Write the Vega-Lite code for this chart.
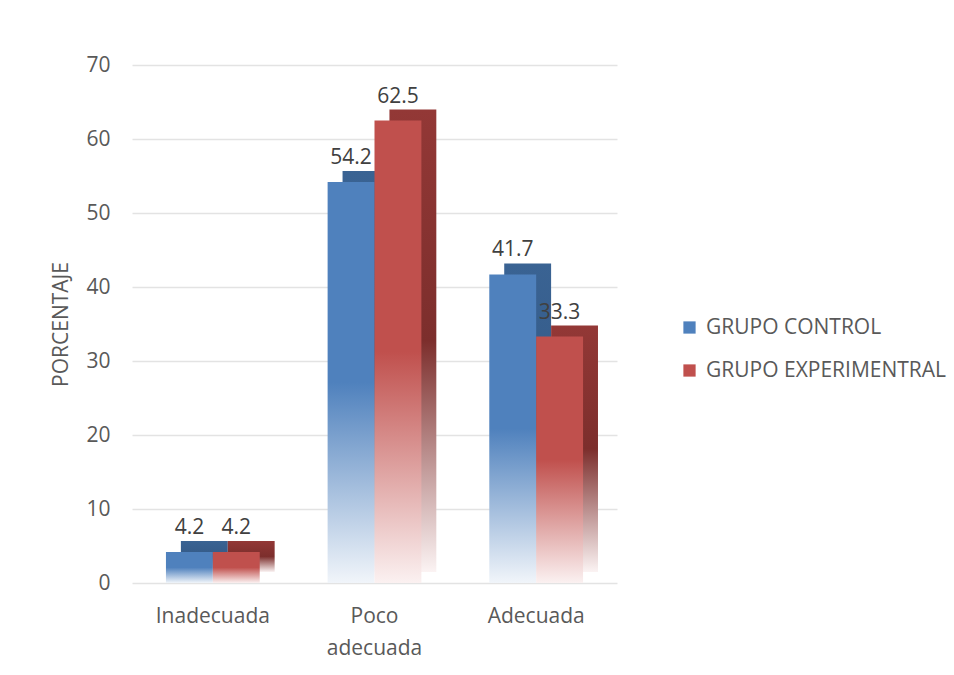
{
  "$schema": "https://vega.github.io/schema/vega-lite/v6.json",
  "autosize": {"type": "none"},
  "padding": {"left": 132, "top": 65, "right": 337, "bottom": 92},
  "width": 485,
  "height": 518,
  "background": "white",
  "config": {
    "view": {"stroke": null},
    "font": "Open Sans",
    "axis": {"labelFont": "Open Sans", "titleFont": "Open Sans", "labelColor": "#595959", "titleColor": "#595959"}
  },
  "data": {
    "values": [
      {"cat": "Inadecuada", "grupo": "GRUPO CONTROL", "valor": 4.2},
      {"cat": "Inadecuada", "grupo": "GRUPO EXPERIMENTRAL", "valor": 4.2},
      {"cat": "Poco adecuada", "grupo": "GRUPO CONTROL", "valor": 54.2},
      {"cat": "Poco adecuada", "grupo": "GRUPO EXPERIMENTRAL", "valor": 62.5},
      {"cat": "Adecuada", "grupo": "GRUPO CONTROL", "valor": 41.7},
      {"cat": "Adecuada", "grupo": "GRUPO EXPERIMENTRAL", "valor": 33.3}
    ]
  },
  "encoding": {
    "xOffset": {"field": "grupo", "type": "nominal", "scale": {"domain": ["GRUPO CONTROL", "GRUPO EXPERIMENTRAL"], "paddingInner": 0}},
    "y": {
      "field": "valor", "type": "quantitative",
      "scale": {"domain": [0, 70], "nice": false},
      "axis": {"title": "PORCENTAJE", "values": [0, 10, 20, 30, 40, 50, 60, 70], "domain": false, "ticks": false, "labelFontSize": 21, "labelPadding": 22, "titleFontSize": 21, "titleFontWeight": "normal", "titlePadding": 14, "gridColor": "#e3e3e3", "gridWidth": 1.5}
    }
  },
  "layer": [
    {
      "encoding": {
        "x": {
          "field": "cat", "type": "nominal", "sort": ["Inadecuada", "Poco adecuada", "Adecuada"],
          "scale": {"domain": ["Inadecuada", "Poco adecuada", "Adecuada"], "paddingInner": 0.42, "paddingOuter": 0.21, "align": 0.72},
          "axis": null
        }
      },
      "layer": [
        {
          "transform": [{"filter": "datum.grupo == 'GRUPO CONTROL'"}],
          "mark": {"type": "bar", "yOffset": -11, "y2Offset": -11,
            "color": {"gradient": "linear", "x1": 0, "y1": 0, "x2": 0, "y2": 1, "stops": [{"offset": 0, "color": "#3a6393"}, {"offset": 0.5, "color": "#345a87"}, {"offset": 1, "color": "#f4f7fb"}]}}
        },
        {
          "transform": [{"filter": "datum.grupo == 'GRUPO EXPERIMENTRAL'"}],
          "mark": {"type": "bar", "yOffset": -11, "y2Offset": -11,
            "color": {"gradient": "linear", "x1": 0, "y1": 0, "x2": 0, "y2": 1, "stops": [{"offset": 0, "color": "#933836"}, {"offset": 0.5, "color": "#7c2e2c"}, {"offset": 1, "color": "#fbf3f3"}]}}
        }
      ]
    },
    {
      "encoding": {
        "x": {
          "field": "cat", "type": "nominal", "sort": ["Inadecuada", "Poco adecuada", "Adecuada"],
          "scale": {"domain": ["Inadecuada", "Poco adecuada", "Adecuada"], "paddingInner": 0.42, "paddingOuter": 0.21},
          "axis": {"title": null, "labelAngle": 0, "domain": false, "ticks": false, "labelFontSize": 21, "labelPadding": 22, "labelLineHeight": 32, "labelExpr": "split(datum.label, ' ')"}
        }
      },
      "layer": [
        {
          "transform": [{"filter": "datum.grupo == 'GRUPO CONTROL'"}],
          "mark": {"type": "bar",
            "color": {"gradient": "linear", "x1": 0, "y1": 0, "x2": 0, "y2": 1, "stops": [{"offset": 0, "color": "#4f81bd"}, {"offset": 0.5, "color": "#4f81bd"}, {"offset": 1, "color": "#f1f5fa"}]}}
        },
        {
          "transform": [{"filter": "datum.grupo == 'GRUPO EXPERIMENTRAL'"}],
          "mark": {"type": "bar",
            "color": {"gradient": "linear", "x1": 0, "y1": 0, "x2": 0, "y2": 1, "stops": [{"offset": 0, "color": "#c0504d"}, {"offset": 0.5, "color": "#c0504d"}, {"offset": 1, "color": "#fbf1f1"}]}}
        },
        {
          "mark": {"type": "text", "baseline": "alphabetic", "dy": -18, "fontSize": 21, "color": "#404040"},
          "encoding": {
            "text": {"field": "valor", "type": "quantitative", "format": ".1f"}
          }
        },
        {
          "mark": {"type": "square", "opacity": 0, "size": 1},
          "encoding": {
            "color": {
              "field": "grupo", "type": "nominal",
              "scale": {"domain": ["GRUPO CONTROL", "GRUPO EXPERIMENTRAL"], "range": ["#4f81bd", "#c0504d"]},
              "legend": {"title": null, "orient": "none", "legendX": 547, "legendY": 252, "symbolType": "square", "symbolSize": 150, "symbolOpacity": 1, "symbolStrokeWidth": 0, "labelFontSize": 21, "labelColor": "#595959", "labelFont": "Open Sans", "rowPadding": 21, "labelOffset": 6, "labelLimit": 400}
            }
          }
        }
      ]
    }
  ],
  "resolve": {"scale": {"x": "independent"}}
}
